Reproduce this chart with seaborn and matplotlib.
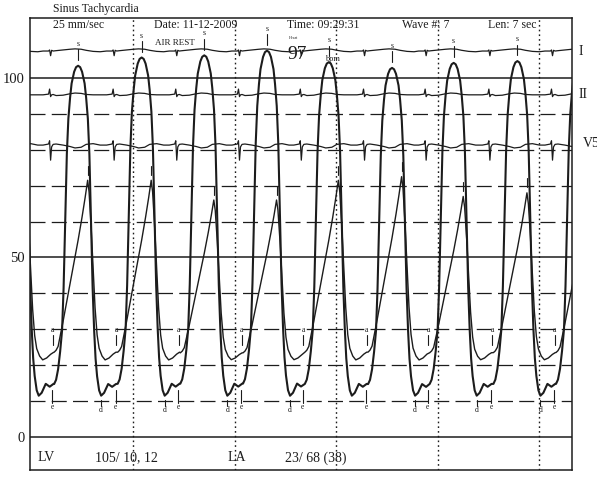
import numpy as np
import pandas as pd
import matplotlib
matplotlib.use("Agg")
import matplotlib.pyplot as plt
import seaborn as sns

# ---------------- data ----------------
# LV systolic peak times (s) and heights (mmHg), one per beat
beat_time = [-0.156, 0.459, 1.085, 1.702, 2.320, 2.929, 3.552, 4.159, 4.787, 5.404]
lv_peak = [105.0, 103.4, 105.7, 106.3, 107.6, 104.4, 102.8, 104.2, 104.7, 105.0]
la_peak = [70.0, 71.5, 71.5, 66.0, 66.0, 71.5, 72.5, 67.0, 68.0, 69.0]
d_mark = [0, 1, 1, 1, 1, 0, 1, 1, 1, 0]

# LV beat shape: time offset from LV peak (s) and pressure (mmHg)
lv_off = [-0.236, -0.217, -0.197, -0.177, -0.158, -0.143, -0.131, -0.121, -0.111,
          -0.096, -0.079, -0.064, -0.039, -0.020, 0.0, 0.020, 0.039, 0.064, 0.079,
          0.096, 0.111, 0.121, 0.131, 0.143, 0.158, 0.172, 0.187, 0.207, 0.227,
          0.256, 0.296, 0.335, 0.373]
lv_val = [14.8, 16.0, 19.0, 24.0, 30.0, 42.0, 56.0, 68.0, 80.0,
          90.0, 96.0, 100.0, 103.3, 104.6, 105.0, 104.6, 103.3, 100.0, 96.0,
          90.0, 80.0, 68.0, 56.0, 42.0, 30.0, 22.0, 17.0, 13.0, 11.5,
          12.3, 14.8, 14.0, 14.8]

# LA beat shape: time offset from LV peak (s) and pressure (mmHg)
la_off = [-0.236, -0.217, -0.197, -0.148, -0.099, -0.049, 0.0, 0.039, 0.069, 0.094,
          0.108, 0.128, 0.148, 0.167, 0.187, 0.207, 0.236, 0.266, 0.305, 0.345, 0.373]
la_val = [23.5, 24.0, 25.0, 31.5, 38.5, 45.5, 52.5, 58.5, 63.5, 68.0,
          65.0, 56.0, 45.0, 35.0, 28.0, 24.5, 22.5, 21.5, 22.0, 23.0, 23.5]

# ECG beat shapes (deviation from the lead's baseline)
ecg_off = [-0.345, -0.291, -0.281, -0.271, -0.261, -0.246, -0.217, -0.148, -0.079,
           -0.030, 0.030, 0.079, 0.148, 0.217, 0.275]
lead1_dev = [0, 0, 0.3, -1.3, 0.2, 0, 0.1, 0.3, 0.5, 0.6, 0.5, 0.2, -0.1, -0.2, 0]
lead2_dev = [0, 0.2, 1.6, -0.5, 0, 0.1, -0.2, -0.1, 0.3, 0.5, 0.4, 0.1, 0, 0, 0]
v5_dev = [0, 0.3, 1.2, -4.2, -0.5, 0.2, 0.3, 0, -0.4, -0.8, -0.6, 0.2, 0.4, 0, 0]
ecg_base = {"I": 107.5, "II": 95.3, "V5": 81.3}

y_ticks = [0, 50, 100]
solid_lines = [0, 50, 100]
dashed_lines = [10, 20, 30, 40, 60, 70, 80, 90]
second_marks = [1, 2, 3, 4, 5]


def build(offsets, values, peaks=None, ref=None, floor=None, base=0.0):
    rows = []
    n = len(beat_time)
    for i, t0 in enumerate(beat_time):
        nxt = beat_time[i + 1] + offsets[0] if i + 1 < n else 1e9
        for o, v in zip(offsets, values):
            t = t0 + o
            if t >= nxt:
                continue
            if peaks is not None:
                v = floor + (v - floor) * (peaks[i] - floor) / (ref - floor)
            rows.append((t, v + base))
    return pd.DataFrame(rows, columns=["t", "p"])


lv_df = build(lv_off, lv_val, lv_peak, 105.0, 12.0)
la_df = build(la_off, la_val, la_peak, 68.0, 22.0)
i_df = build(ecg_off, lead1_dev, base=ecg_base["I"])
ii_df = build(ecg_off, lead2_dev, base=ecg_base["II"])
v5_df = build(ecg_off, v5_dev, base=ecg_base["V5"])

# ---------------- drawing ----------------
sns.set_theme(style="white")
plt.rcParams["font.family"] = ["Liberation Serif", "DejaVu Serif"]

W, H = 597, 478
X0, X1 = -0.015, 5.325
fig = plt.figure(figsize=(W / 100, H / 100), dpi=100)
ax = fig.add_axes([30 / W, 1 - 470 / H, (572 - 30) / W, (470 - 18) / H])
ink = "#1c1c1c"

for y in solid_lines:
    ax.axhline(y, color=ink, lw=1.1, zorder=1)
for y in dashed_lines:
    ax.axhline(y, color=ink, lw=0.9, ls=(0, (12, 5)), zorder=1)
for x in second_marks:
    ax.axvline(x, color=ink, lw=1.0, ls=(0, (1.2, 2.2)), zorder=1)

for df, lw in [(i_df, 0.9), (ii_df, 0.9), (v5_df, 0.9), (la_df, 1.0), (lv_df, 1.5)]:
    sns.lineplot(data=df, x="t", y="p", sort=False, estimator=None,
                 color=ink, lw=lw, ax=ax, zorder=3)


def inside(t):
    return X0 + 0.01 < t < X1 - 0.01


mk = dict(color=ink, fontsize=5.5, ha="center", zorder=4)
tk = dict(color=ink, lw=0.8, zorder=4)
for i, t0 in enumerate(beat_time):
    pk = lv_peak[i]
    if inside(t0):
        ax.plot([t0, t0], [pk + 1.6, pk + 4.6], **tk)
        ax.text(t0, pk + 5.0, "s", va="bottom", **mk)
    tv = t0 + la_off[9]
    if inside(tv):
        ax.plot([tv, tv], [la_peak[i] + 1.5, la_peak[i] + 4.0], **tk)
    ta = t0 - 0.250
    if inside(ta):
        ax.plot([ta, ta], [25.5, 28.3], **tk)
        ax.text(ta, 28.6, "a", va="bottom", **mk)
    te = t0 - 0.256
    if inside(te):
        ax.plot([te, te], [13.0, 9.6], **tk)
        ax.text(te, 9.6, "e", va="top", **mk)
    td = t0 + 0.227
    if d_mark[i] and inside(td):
        ax.plot([td, td], [10.4, 8.6], **tk)
        ax.text(td, 8.6, "d", va="top", **mk)

ax.set_xlim(X0, X1)
ax.set_ylim(-9.2, 116.7)
ax.set_yticks(y_ticks)
ax.set_yticklabels([str(v) for v in y_ticks], fontsize=10.5, color=ink)
ax.set_xticks([])
ax.tick_params(axis="y", length=0, pad=4)
ax.set_xlabel("")
ax.set_ylabel("")
for s in ax.spines.values():
    s.set_visible(True)
    s.set_color(ink)
    s.set_linewidth(1.1)

hdr = dict(color=ink, fontsize=8.5, va="center", ha="left", clip_on=False)
ax.text(0.21, 119.2, "Sinus Tachycardia", **hdr)
ax.text(0.21, 114.8, "25 mm/sec", **hdr)
ax.text(1.207, 114.8, "Date: 11-12-2009", **hdr)
ax.text(2.517, 114.8, "Time: 09:29:31", **hdr)
ax.text(3.65, 114.8, "Wave #: 7", **hdr)
ax.text(4.497, 114.8, "Len: 7 sec", **hdr)
ax.text(1.217, 109.7, "AIR REST", color=ink, fontsize=6.5, va="center", ha="left")
ax.text(2.616, 106.4, "97", color=ink, fontsize=14, va="center", ha="center", zorder=5)
ax.text(2.58, 111.2, "Heart", color=ink, fontsize=3, va="center", ha="center")
ax.text(2.97, 105.4, "bpm", color=ink, fontsize=6, va="center", ha="center", zorder=5)

bt = dict(color=ink, fontsize=10, va="center", ha="left")
ax.text(0.064, -5.8, "LV", **bt)
ax.text(0.626, -5.8, "105/ 10, 12", **bt)
ax.text(1.936, -5.8, "LA", **bt)
ax.text(2.497, -5.8, "23/ 68 (38)", **bt)

lab = dict(color=ink, fontsize=10, va="center", ha="left", clip_on=False)
ax.text(5.39, ecg_base["I"], "I", **lab)
ax.text(5.39, ecg_base["II"], "II", **lab)
ax.text(5.435, ecg_base["V5"] + 0.5, "V5", **lab)

fig.savefig("out.png", dpi=100, facecolor="white")
